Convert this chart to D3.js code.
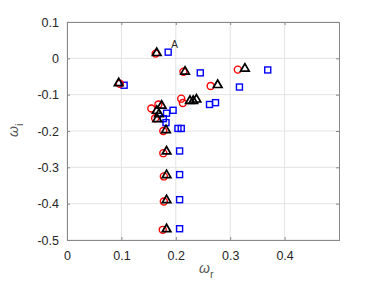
<!DOCTYPE html>
<html>
<head>
<meta charset="utf-8">
<script src="https://cdn.jsdelivr.net/npm/d3@7"></script>
<style>
body { margin: 0; background: #fff; }
text { font-family: "Liberation Sans", Arial, sans-serif; fill: #262626; }
</style>
</head>
<body>
<div id="svg"></div>
<script>
// data: [omega_r, omega_i]
var circles = [
    [0.163, 0.013], [0.214, -0.037], [0.097, -0.070], [0.264, -0.076],
    [0.314, -0.031], [0.210, -0.111], [0.213, -0.123], [0.155, -0.138],
    [0.168, -0.127], [0.162, -0.165], [0.177, -0.200], [0.177, -0.261],
    [0.178, -0.325], [0.178, -0.394], [0.176, -0.472]
];
var triangles = [
    [0.165, 0.016], [0.217, -0.035], [0.095, -0.067], [0.277, -0.072],
    [0.327, -0.027], [0.226, -0.116], [0.232, -0.116], [0.238, -0.112],
    [0.174, -0.129], [0.165, -0.143], [0.169, -0.152], [0.166, -0.166],
    [0.182, -0.196], [0.183, -0.255], [0.183, -0.320], [0.183, -0.389],
    [0.183, -0.469]
];
var squares = [
    [0.186, 0.017], [0.245, -0.040], [0.105, -0.074], [0.369, -0.032],
    [0.317, -0.079], [0.262, -0.127], [0.273, -0.122], [0.183, -0.151],
    [0.195, -0.143], [0.177, -0.166], [0.182, -0.177], [0.204, -0.193],
    [0.210, -0.193], [0.207, -0.255], [0.207, -0.320], [0.207, -0.389],
    [0.207, -0.469]
];
var xTicks = [0, 0.1, 0.2, 0.3, 0.4];
var yTicks = [0.1, 0, -0.1, -0.2, -0.3, -0.4, -0.5];
var labelA = {x: 0.186, y: 0.017, text: "A"};

var w = 374, h = 294;
var mLeft = 67, mRight = 339, mTop = 22, mBottom = 240;

var svg = d3.select("#svg").append("svg").attr("width", w).attr("height", h);

var xScale = d3.scaleLinear().domain([0, 0.5]).range([mLeft, mRight]);
var yScale = d3.scaleLinear().domain([-0.5, 0.1]).range([mBottom, mTop]);

// grid
svg.append("g").selectAll("line").data(xTicks).enter().append("line")
    .attr("x1", function(d) { return xScale(d); }).attr("x2", function(d) { return xScale(d); })
    .attr("y1", mTop).attr("y2", mBottom)
    .attr("stroke", "#e3e3e3").attr("stroke-width", 1);
svg.append("g").selectAll("line").data(yTicks).enter().append("line")
    .attr("y1", function(d) { return yScale(d); }).attr("y2", function(d) { return yScale(d); })
    .attr("x1", mLeft).attr("x2", mRight)
    .attr("stroke", "#e3e3e3").attr("stroke-width", 1);

// axes (ticks pointing inward, box on all sides)
var fmt = function(d) { return String(+d.toFixed(1)); };
var xAxis = svg.append("g").attr("transform", "translate(0," + mBottom + ")")
    .call(d3.axisBottom(xScale).tickValues(xTicks).tickSize(-3).tickPadding(11).tickFormat(fmt));
var yAxis = svg.append("g").attr("transform", "translate(" + mLeft + ",0)")
    .call(d3.axisLeft(yScale).tickValues(yTicks).tickSize(-3).tickPadding(8).tickFormat(fmt));
var xTop = svg.append("g").attr("transform", "translate(0," + mTop + ")")
    .call(d3.axisTop(xScale).tickValues(xTicks).tickSize(-3).tickFormat(""));
var yRight = svg.append("g").attr("transform", "translate(" + mRight + ",0)")
    .call(d3.axisRight(yScale).tickValues(yTicks).tickSize(-3).tickFormat(""));

[xAxis, yAxis, xTop, yRight].forEach(function(g) {
    g.selectAll("path").attr("stroke", "#888").attr("stroke-width", 1);
    g.selectAll("line").attr("stroke", "#888");
    g.selectAll("text").attr("font-size", 12.5).attr("fill", "#262626")
        .style("font-family", "Liberation Sans, Arial, sans-serif");
});

// markers
var plot = svg.append("g");
plot.selectAll(".sq").data(squares).enter().append("rect")
    .attr("x", function(d) { return xScale(d[0]) - 3; })
    .attr("y", function(d) { return yScale(d[1]) - 3; })
    .attr("width", 6).attr("height", 6)
    .attr("fill", "none").attr("stroke", "#0000ff").attr("stroke-width", 1.4);
plot.selectAll(".ci").data(circles).enter().append("circle")
    .attr("cx", function(d) { return xScale(d[0]); })
    .attr("cy", function(d) { return yScale(d[1]); })
    .attr("r", 3.5)
    .attr("fill", "none").attr("stroke", "#ff0000").attr("stroke-width", 1.4);
var tri = d3.symbol().type(d3.symbolTriangle).size(32);
plot.selectAll(".tr").data(triangles).enter().append("path")
    .attr("d", tri)
    .attr("transform", function(d) { return "translate(" + xScale(d[0]) + "," + (yScale(d[1]) + 0.5) + ")"; })
    .attr("fill", "none").attr("stroke", "#000").attr("stroke-width", 1.7);

svg.append("text")
    .attr("x", xScale(labelA.x) + 3).attr("y", yScale(labelA.y) - 4)
    .attr("font-size", 10).attr("fill", "#404040").text(labelA.text);

// axis labels
var xl = svg.append("text").attr("x", 199).attr("y", 273).attr("font-size", 14)
    .style("fill", "#555").attr("font-style", "italic");
xl.append("tspan").text("ω");
xl.append("tspan").attr("dy", 5).attr("font-size", 11).attr("font-style", "normal").text("r");

var yl = svg.append("text").attr("transform", "translate(18,137) rotate(-90)").attr("font-size", 14)
    .style("fill", "#555").attr("font-style", "italic");
yl.append("tspan").text("ω");
yl.append("tspan").attr("dy", 5).attr("font-size", 11).attr("font-style", "normal").text("i");
</script>
</body>
</html>
